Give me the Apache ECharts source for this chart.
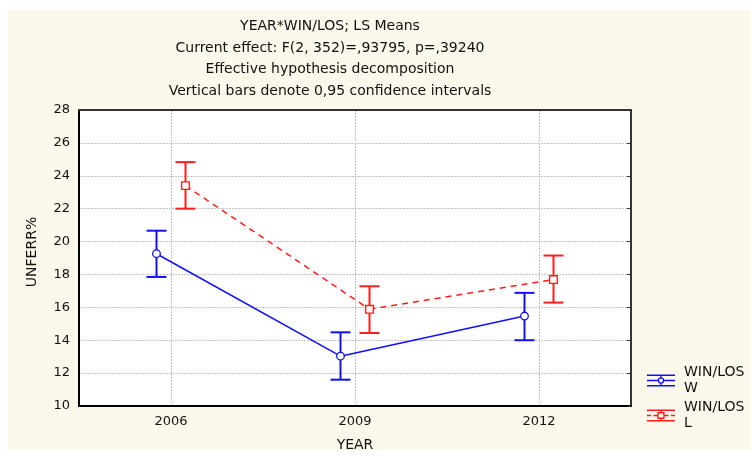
<!DOCTYPE html>
<html>
<head>
<meta charset="utf-8">
<title>YEAR*WIN/LOS; LS Means</title>
<script src="https://cdn.jsdelivr.net/npm/echarts@6/dist/echarts.min.js"></script>
<style>
    html, body { margin: 0; padding: 0; background: #fff; }
    #main { width: 751px; height: 457px; }
</style>
</head>
<body>
<div id="main"></div>
<script>
    // data
    var years = ['2006', '2009', '2012'];
    var wMean = [19.26, 13.03, 15.47];
    var wLow  = [17.85, 11.60, 14.00];
    var wHigh = [20.66, 14.48, 16.88];
    var lMean = [23.40, 15.88, 17.69];
    var lLow  = [22.00, 14.44, 16.29];
    var lHigh = [24.83, 17.28, 19.15];
    var yMin = 10, yMax = 28, yStep = 2;
    var titleLines = [
        'YEAR*WIN/LOS; LS Means',
        'Current effect: F(2, 352)=,93795, p=,39240',
        'Effective hypothesis decomposition',
        'Vertical bars denote 0,95 confidence intervals'
    ];

    var FONT = 'DejaVu Sans, Verdana, sans-serif';
    var BLUE = '#1010f8';
    var RED = '#ff1c1c';
    var GRID_LINE = { color: '#c4c4c4', type: [2, 1] };

    // legend glyphs: caps, vertical bar, line and hollow marker
    var W_ICON = 'path://M0,0H28V1.4H0Z M0,10.6H28V12H0Z' +
        ' M13.3,1.4H14.7V3.2H13.3Z M13.3,8.8H14.7V10.6H13.3Z' +
        ' M0,5.3H11.2V6.7H0Z M16.8,5.3H28V6.7H16.8Z' +
        ' M17.2,6A3.2,3.2 0 1,1 10.8,6A3.2,3.2 0 1,1 17.2,6Z' +
        ' M15.9,6A1.9,1.9 0 1,0 12.1,6A1.9,1.9 0 1,0 15.9,6Z';
    var L_ICON = 'path://M0,0H28V1.4H0Z M0,10.6H28V12H0Z' +
        ' M13.3,1.4H14.7V2.6H13.3Z M13.3,9.4H14.7V10.6H13.3Z' +
        ' M0,5.3H4V6.7H0Z M6.5,5.3H10.4V6.7H6.5Z M17.6,5.3H21.5V6.7H17.6Z M24,5.3H28V6.7H24Z' +
        ' M10.4,2.6H17.6V9.4H10.4Z M11.7,3.9V8.1H16.3V3.9Z';

    function groupSeries(name, mean, low, high, color, dx, marker, dashed) {
        var data = mean.map(function (m, i) { return [i, m, low[i], high[i]]; });
        return {
            name: name,
            type: 'custom',
            itemStyle: { color: color },
            data: data,
            z: dashed ? 3 : 4,
            renderItem: function (params, api) {
                var i = api.value(0);
                var p = api.coord([i, api.value(1)]);
                var lo = api.coord([i, api.value(2)]);
                var hi = api.coord([i, api.value(3)]);
                var x = p[0] + dx;
                var kids = [];
                if (i < mean.length - 1) {
                    var q = api.coord([i + 1, mean[i + 1]]);
                    kids.push({
                        type: 'line',
                        shape: { x1: x, y1: p[1], x2: q[0] + dx, y2: q[1] },
                        style: { stroke: color, lineWidth: 1.5, lineDash: dashed ? [6, 5] : null }
                    });
                }
                var bar = { stroke: color, lineWidth: 2 };
                kids.push({ type: 'line', shape: { x1: x, y1: hi[1], x2: x, y2: lo[1] }, style: bar });
                kids.push({ type: 'line', shape: { x1: x - 10, y1: hi[1], x2: x + 10, y2: hi[1] }, style: bar });
                kids.push({ type: 'line', shape: { x1: x - 10, y1: lo[1], x2: x + 10, y2: lo[1] }, style: bar });
                if (marker === 'circle') {
                    kids.push({ type: 'circle', shape: { cx: x, cy: p[1], r: 3.8 },
                        style: { fill: '#fff', stroke: color, lineWidth: 1.3 } });
                } else {
                    kids.push({ type: 'rect', shape: { x: x - 3.8, y: p[1] - 3.8, width: 7.6, height: 7.6 },
                        style: { fill: '#fff', stroke: color, lineWidth: 1.3 } });
                }
                return { type: 'group', children: kids };
            }
        };
    }

    var chart = echarts.init(document.getElementById('main'));
    chart.setOption({
        backgroundColor: '#fff',
        animation: false,
        graphic: [{
            type: 'rect', z: -10, silent: true,
            shape: { x: 8, y: 10, width: 743, height: 440 },
            style: { fill: '#fdf8ec' }
        }],
        title: {
            text: titleLines.join('\n'),
            left: 330, top: 16, padding: 0,
            textAlign: 'center',
            textStyle: { fontFamily: FONT, fontSize: 14, fontWeight: 'normal', color: '#111', lineHeight: 21.5 }
        },
        legend: {
            orient: 'vertical',
            left: 647, top: 356, padding: 0,
            itemWidth: 28, itemHeight: 12, itemGap: -14,
            formatter: 'WIN/LOS\n{name}',
            textStyle: { fontFamily: FONT, fontSize: 14, color: '#111', lineHeight: 16.5, padding: [16, 0, 0, 4] },
            data: [{ name: 'W', icon: W_ICON }, { name: 'L', icon: L_ICON }]
        },
        grid: {
            left: 79, right: 120, top: 110, bottom: 51,
            show: true, backgroundColor: '#fff', borderWidth: 0
        },
        xAxis: [{
            type: 'category',
            data: years,
            boundaryGap: true,
            name: 'YEAR', nameLocation: 'middle', nameGap: 32,
            nameTextStyle: { fontFamily: FONT, fontSize: 14, color: '#111' },
            axisLine: { lineStyle: { color: '#000', width: 2 } },
            axisTick: { inside: true, length: 4, alignWithLabel: true, lineStyle: { color: '#000' } },
            axisLabel: { fontFamily: FONT, fontSize: 13, color: '#111', margin: 9 },
            splitLine: { show: true, alignWithLabel: true, lineStyle: GRID_LINE }
        }, {
            type: 'category',
            data: years,
            position: 'top',
            axisLine: { lineStyle: { color: '#333', width: 2 } },
            axisTick: { show: false },
            axisLabel: { show: false },
            splitLine: { show: false }
        }],
        yAxis: [{
            type: 'value',
            min: yMin, max: yMax, interval: yStep,
            name: 'UNFERR%', nameLocation: 'middle', nameGap: 40,
            nameTextStyle: { fontFamily: FONT, fontSize: 14, color: '#111', padding: [0, 0, 0, 12] },
            axisLine: { show: true, lineStyle: { color: '#000', width: 2 } },
            axisTick: { show: false },
            axisLabel: { fontFamily: FONT, fontSize: 13, color: '#111', margin: 9 },
            splitLine: { show: true, lineStyle: GRID_LINE }
        }, {
            type: 'value', position: 'right',
            min: yMin, max: yMax, interval: yStep,
            axisLine: { show: true, lineStyle: { color: '#333', width: 2 } },
            axisTick: { show: true, inside: true, length: 4, lineStyle: { color: '#333' } },
            axisLabel: { show: false },
            splitLine: { show: false }
        }],
        series: [
            groupSeries('W', wMean, wLow, wHigh, BLUE, -14.5, 'circle', false),
            groupSeries('L', lMean, lLow, lHigh, RED, 14.5, 'square', true)
        ]
    });
</script>
</body>
</html>
